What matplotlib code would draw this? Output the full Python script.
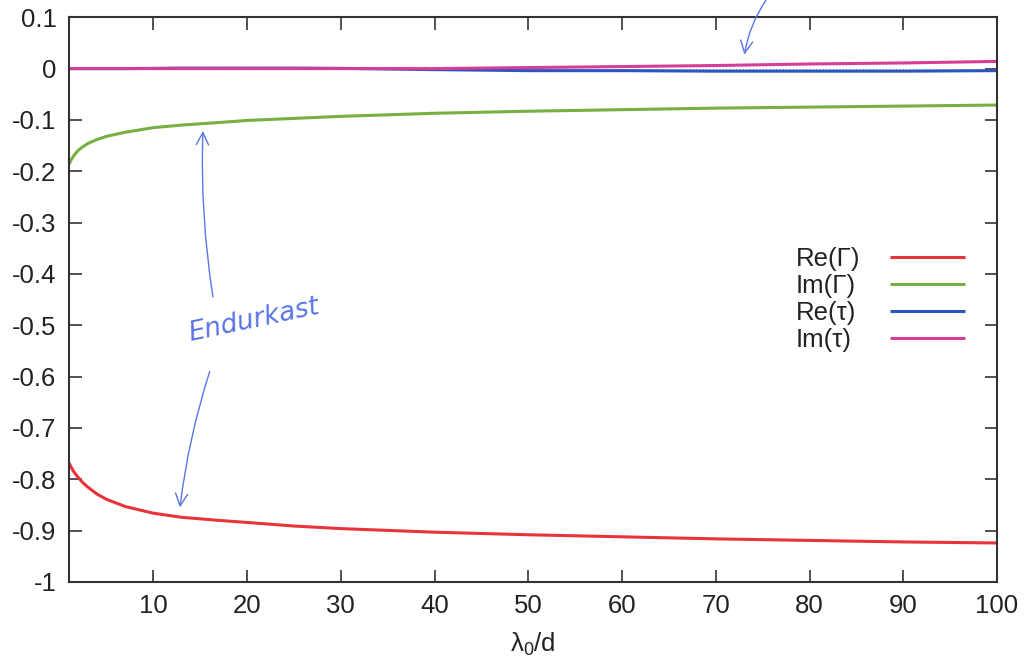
import matplotlib
matplotlib.use("Agg")
import matplotlib.pyplot as plt
from matplotlib.ticker import FuncFormatter

plt.rcParams['font.family'] = ['Liberation Sans', 'DejaVu Sans']
plt.rcParams['axes.unicode_minus'] = False
plt.rcParams['mathtext.fontset'] = 'custom'
plt.rcParams['mathtext.rm'] = 'Liberation Sans'
plt.rcParams['mathtext.it'] = 'Liberation Sans'

# values
lam = [1, 1.25, 1.5, 1.75, 2, 2.5, 3, 4, 5, 7, 10, 13, 17, 20, 25, 30,
       40, 50, 60, 70, 80, 90, 100]
re_gamma = [-0.768, -0.777, -0.785, -0.791, -0.797, -0.807, -0.815, -0.829, -0.839,
            -0.853, -0.866, -0.874, -0.880, -0.884, -0.891, -0.896,
            -0.903, -0.908, -0.912, -0.916, -0.919, -0.922, -0.924]
im_gamma = [-0.186, -0.177, -0.170, -0.164, -0.159, -0.152, -0.146, -0.138, -0.132,
            -0.124, -0.115, -0.110, -0.105, -0.101, -0.097, -0.093,
            -0.087, -0.083, -0.080, -0.077, -0.075, -0.073, -0.071]
re_tau = [0.0, 0.0, 0.0, 0.0, 0.0, 0.0, 0.0, 0.0, 0.0, 0.0, 0.0005, 0.001, 0.001,
          0.001, 0.001, 0.0005, -0.002, -0.004, -0.004, -0.005, -0.005, -0.005, -0.004]
im_tau = [0.0, 0.0, 0.0, 0.0, 0.0, 0.0, 0.0, 0.0, 0.0, 0.0, 0.0, 0.0, 0.0, 0.0,
          0.0, 0.0, 0.0, 0.002, 0.004, 0.006, 0.009, 0.011, 0.014]

labels = ['Re(Γ)', 'Im(Γ)', 'Re(τ)', 'Im(τ)']
colors = ['#e8333a', '#76b041', '#2b55c2', '#d63d96']

fig = plt.figure(figsize=(10.3, 6.64), dpi=100)
ax = fig.add_axes([0.067, 0.1235, 0.901, 0.8505])

ax.axhline(0, color='#999999', lw=0.8, ls=(0, (1, 2)), zorder=1)
lines = []
for y, lab, c in zip([re_gamma, im_gamma, re_tau, im_tau], labels, colors):
    ln, = ax.plot(lam, y, color=c, lw=2.2, label=lab, solid_capstyle='butt')
    lines.append(ln)

ax.set_xlim(1, 100)
ax.set_ylim(-1, 0.1)
ax.set_xticks(range(10, 101, 10))
ax.set_yticks([i / 10 for i in range(-10, 2)])
ax.yaxis.set_major_formatter(FuncFormatter(lambda v, p: '%g' % round(v, 1)))
ax.tick_params(direction='in', length=9, width=1.2, color='#333333',
               top=True, right=True, labelsize=18.5, labelcolor='#222222', pad=9)
for s in ax.spines.values():
    s.set_color('#333333')
    s.set_linewidth(1.5)

ax.set_xlabel('λ$_0$/d', fontsize=18.5, color='#222222', labelpad=9)

# gnuplot-style key: left-aligned texts, samples to the right
common = dict(loc='center left', frameon=False, fontsize=18.5,
              labelspacing=0.12, borderaxespad=0)
leg_txt = ax.legend(lines, labels, bbox_to_anchor=(0.772, 0.5),
                    handlelength=0, handletextpad=0, **common)
for t in leg_txt.get_texts():
    t.set_color('#222222')
for h in leg_txt.legend_handles:
    h.set_visible(False)
ax.add_artist(leg_txt)
ax.legend(lines, [' '] * 4, bbox_to_anchor=(0.874, 0.5), handlelength=2.9,
          handletextpad=0.2, **common)

# handwritten notes
pen = '#5b74e6'
arr = dict(arrowstyle='->', color=pen, lw=1.0, mutation_scale=22)
ax.annotate('', xy=(73.0, 0.022), xytext=(75.6, 0.14), annotation_clip=False,
            arrowprops=dict(arr, connectionstyle='arc3,rad=0.12'))
ax.annotate('', xy=(15.3, -0.116), xytext=(16.4, -0.45),
            arrowprops=dict(arr, connectionstyle='arc3,rad=-0.05'))
ax.annotate('', xy=(12.8, -0.86), xytext=(16.1, -0.585),
            arrowprops=dict(arr, connectionstyle='arc3,rad=0.05'))
ax.text(20.7, -0.49, 'Endurkast', color=pen, fontsize=19, rotation=12,
        ha='center', va='center', fontstyle='italic', family='DejaVu Sans',
        fontweight='light')

fig.savefig('out.png', dpi=100)
